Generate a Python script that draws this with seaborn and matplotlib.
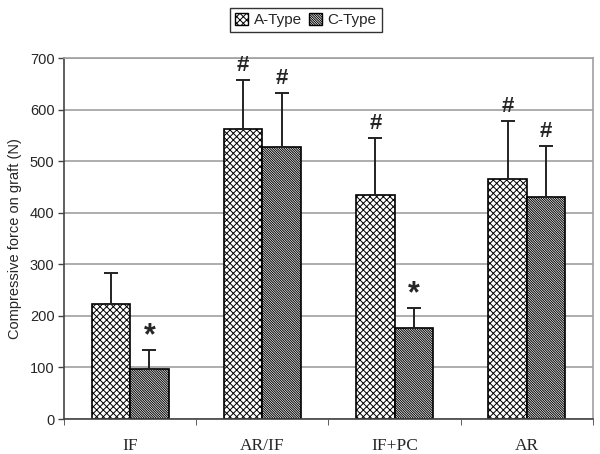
import numpy as np
import pandas as pd
import seaborn as sns
import matplotlib.pyplot as plt
from matplotlib.patches import Patch

# values
groups = ['IF', 'AR/IF', 'IF+PC', 'AR']
types = ['A-Type', 'C-Type']
a_mean = [223, 563, 435, 465]
c_mean = [97, 528, 177, 430]
a_sd = [60, 95, 110, 113]
c_sd = [37, 104, 38, 100]
a_mark = ['', '#', '#', '#']
c_mark = ['*', '#', '*', '#']

df = pd.DataFrame({
    'group': groups * 2,
    'type': [types[0]] * 4 + [types[1]] * 4,
    'force': a_mean + c_mean,
})

sns.set_style('white')
plt.rcParams['font.family'] = ['Liberation Sans', 'DejaVu Sans']
plt.rcParams['hatch.linewidth'] = 0.7

fig = plt.figure(figsize=(6.0, 4.54), dpi=100)
ax = fig.add_axes([0.107, 0.077, 0.881, 0.795])

sns.barplot(data=df, x='group', y='force', hue='type', order=groups,
            hue_order=types, palette=['white', 'white'], width=0.58,
            edgecolor='black', linewidth=1.2, errorbar=None, legend=False, ax=ax)

hatches = ['xxxxx', '\\\\\\\\\\\\\\\\\\\\\\\\\\\\']
sds = [a_sd, c_sd]
means = [a_mean, c_mean]
marks = [a_mark, c_mark]
bar_sets = list(ax.containers)
for k, cont in enumerate(bar_sets):
    xs = []
    for bar in cont:
        bar.set_hatch(hatches[k])
        bar.set_edgecolor('black')
        xs.append(bar.get_x() + bar.get_width() / 2)
    ax.errorbar(xs, means[k], yerr=[np.zeros(4), sds[k]], fmt='none',
                ecolor='#222222', elinewidth=1.4, capsize=5, capthick=1.4)
    for x, m, s, t in zip(xs, means[k], sds[k], marks[k]):
        if t == '#':
            ax.text(x, m + s + 8, t, ha='center', va='bottom',
                    fontsize=16, fontweight='bold')
        elif t:
            ax.text(x, m + s - 2, t, ha='center', va='bottom',
                    fontsize=22, fontweight='bold')

ax.set_ylim(0, 700)
ax.set_xlim(-0.5, 3.5)
ax.set_yticks(range(0, 701, 100))
ax.yaxis.grid(True, color='#a0a0a0', linewidth=1.2)
ax.set_axisbelow(True)
ax.tick_params(axis='y', direction='out', length=4, width=1, color='#444444',
               labelsize=10.5, left=True, pad=3)
ax.set_xticks(range(4))
ax.set_xticklabels(groups, fontsize=12.5, family=['Liberation Serif'])
ax.set_xticks([0.5, 1.5, 2.5, 3.5, -0.5], minor=True)
ax.tick_params(axis='x', which='major', length=0, pad=14)
ax.tick_params(axis='x', which='minor', direction='out', length=4,
               color='#444444', bottom=True)
ax.set_xlabel('')
ax.set_ylabel('Compressive force on graft (N)', fontsize=10.5, labelpad=6)

for side in ['left', 'bottom']:
    ax.spines[side].set_color('#444444')
    ax.spines[side].set_linewidth(1.2)
for side in ['top', 'right']:
    ax.spines[side].set_color('#a0a0a0')
    ax.spines[side].set_linewidth(1.2)

handles = [Patch(facecolor='white', edgecolor='black', hatch=h, linewidth=1.0)
           for h in hatches]
leg = fig.legend(handles, types, loc='center', bbox_to_anchor=(0.51, 0.956),
                 ncol=2, fontsize=11, frameon=True, fancybox=False,
                 handlelength=0.8, handleheight=0.8, handletextpad=0.4,
                 columnspacing=0.5, borderpad=0.35)
leg.get_frame().set_edgecolor('black')
leg.get_frame().set_linewidth(1.0)

fig.savefig('out.png', dpi=100)
